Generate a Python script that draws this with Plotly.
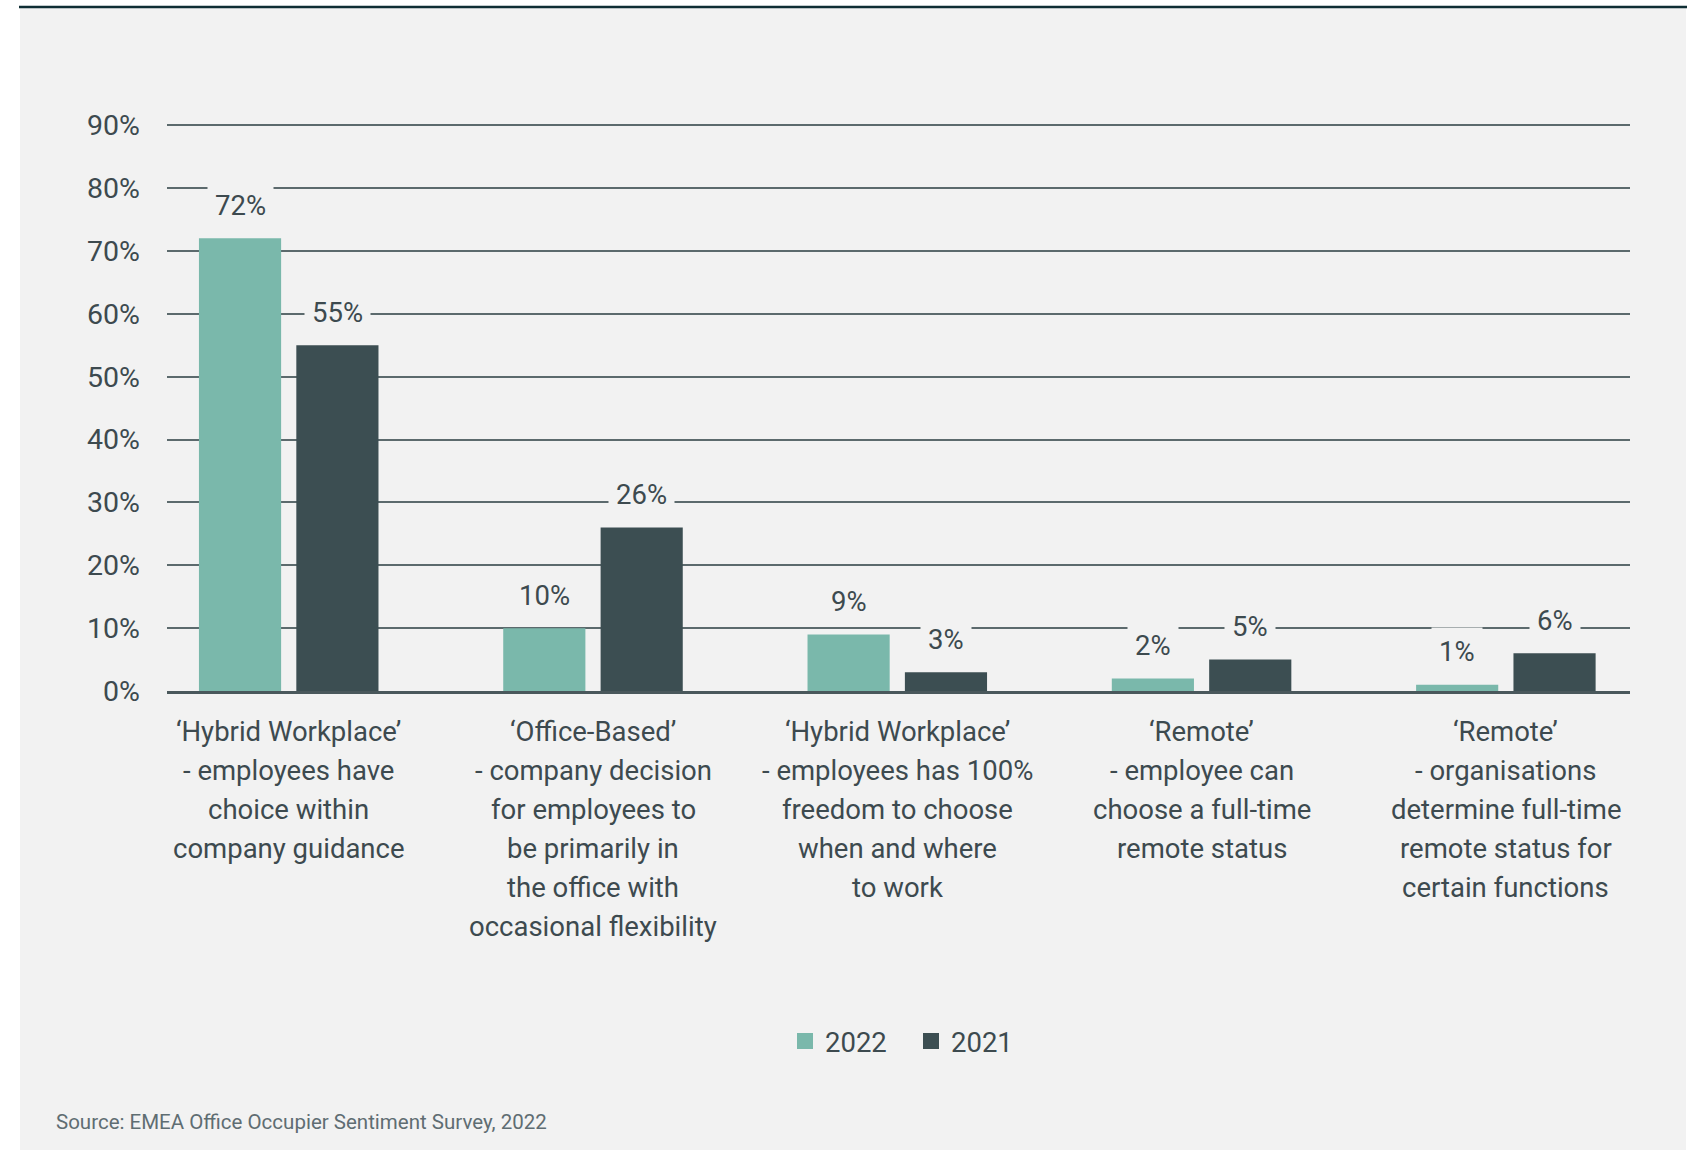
import plotly.graph_objects as go

# ---- data -------------------------------------------------------------
category_lines = [
    ["‘Hybrid Workplace’", "- employees have", "choice within", "company guidance"],
    ["‘Office-Based’", "- company decision", "for employees to", "be primarily in",
     "the office with", "occasional flexibility"],
    ["‘Hybrid Workplace’", "- employees has 100%", "freedom to choose", "when and where", "to work"],
    ["‘Remote’", "- employee can", "choose a full-time", "remote status"],
    ["‘Remote’", "- organisations", "determine full-time", "remote status for", "certain functions"],
]
series_names = ["2022", "2021"]
values_2022 = [72, 10, 9, 2, 1]
values_2021 = [55, 26, 3, 5, 6]
y_tick_values = [0, 10, 20, 30, 40, 50, 60, 70, 80, 90]
y_tick_labels = ["0%", "10%", "20%", "30%", "40%", "50%", "60%", "70%", "80%", "90%"]
source_note = "Source: EMEA Office Occupier Sentiment Survey, 2022"

# ---- styling ----------------------------------------------------------
W, H = 1691, 1151
M_L, M_R, M_T, M_B = 167, 61, 122, 460
PW = W - M_L - M_R
PH = H - M_T - M_B

FONT = "Roboto"
FS = 27.5
TEXT = "#3d4a4f"
PANEL = "#f2f2f2"
GRID = "#5c6a6d"
COLORS = {"2022": "#7ab8ab", "2021": "#3c4e52"}
BAR_W = 0.27
CENTER_SHIFT = {"2022": -0.16, "2021": 0.16}


def paper_x(px):
    return (px - M_L) / PW


def paper_y(py):
    return (H - M_B - py) / PH


series = {"2022": values_2022, "2021": values_2021}
idx = list(range(len(category_lines)))

fig = go.Figure()
for name in series_names:
    fig.add_trace(go.Bar(
        x=idx, y=series[name], name=name,
        width=BAR_W, offset=CENTER_SHIFT[name] - BAR_W / 2,
        marker=dict(color=COLORS[name], line=dict(width=0)),
        showlegend=False, hoverinfo="skip",
    ))
# legend swatches
for name in series_names:
    fig.add_trace(go.Scatter(
        x=[None], y=[None], mode="markers", name=name,
        marker=dict(symbol="square", size=16, color=COLORS[name]),
        showlegend=True,
    ))

annotations = []
# value labels above the bars, with a panel-coloured box cutting the gridlines
for name in series_names:
    for i, v in zip(idx, series[name]):
        annotations.append(dict(
            x=i + CENTER_SHIFT[name], y=v, xref="x", yref="y",
            text=f"{v}%", showarrow=False, yanchor="middle", yshift=33,
            font=dict(family=FONT, size=FS, color=TEXT),
            bgcolor=PANEL, borderpad=7,
        ))
# multi-line category labels
for i, lines in zip(idx, category_lines):
    for k, line in enumerate(lines):
        annotations.append(dict(
            x=i, y=0, xref="x", yref="paper",
            text=line, showarrow=False, xanchor="center", yanchor="middle",
            yshift=-(40.7 + 38.9 * k),
            font=dict(family=FONT, size=FS, color=TEXT),
        ))
annotations.append(dict(
    x=paper_x(54), y=paper_y(1122), xref="paper", yref="paper",
    text=source_note, showarrow=False, xanchor="left", yanchor="middle",
    font=dict(family=FONT, size=20.5, color="#5f6d72"),
))

shapes = [
    dict(type="rect", xref="paper", yref="paper", layer="below",
         x0=paper_x(20), x1=paper_x(1686), y0=paper_y(8), y1=paper_y(1150),
         fillcolor=PANEL, line=dict(width=0)),
    dict(type="line", xref="paper", yref="paper",
         x0=paper_x(19), x1=paper_x(1687), y0=paper_y(7), y1=paper_y(7),
         line=dict(color="#0f2e34", width=2.5)),
]

fig.update_layout(
    width=W, height=H,
    margin=dict(l=M_L, r=M_R, t=M_T, b=M_B, pad=0),
    paper_bgcolor="white", plot_bgcolor="rgba(0,0,0,0)",
    barmode="overlay",
    font=dict(family=FONT, size=FS, color=TEXT),
    xaxis=dict(range=[-0.4, 4.408], showticklabels=False, showgrid=False,
               zeroline=False, showline=True, linecolor="#4a585c", linewidth=3,
               ticks=""),
    yaxis=dict(range=[0, 90.5], tickvals=y_tick_values, ticktext=y_tick_labels,
               showgrid=True, gridcolor=GRID, gridwidth=2, zeroline=False,
               showline=False, ticks="", ticklabelstandoff=26,
               tickfont=dict(family=FONT, size=28.5, color=TEXT)),
    legend=dict(orientation="h", x=paper_x(911), xanchor="center",
                y=paper_y(1041), yanchor="middle",
                entrywidth=81, entrywidthmode="pixels",
                font=dict(family=FONT, size=FS, color=TEXT),
                bgcolor="rgba(0,0,0,0)", itemclick=False),
    annotations=annotations,
    shapes=shapes,
)

fig.write_html("out.html")
